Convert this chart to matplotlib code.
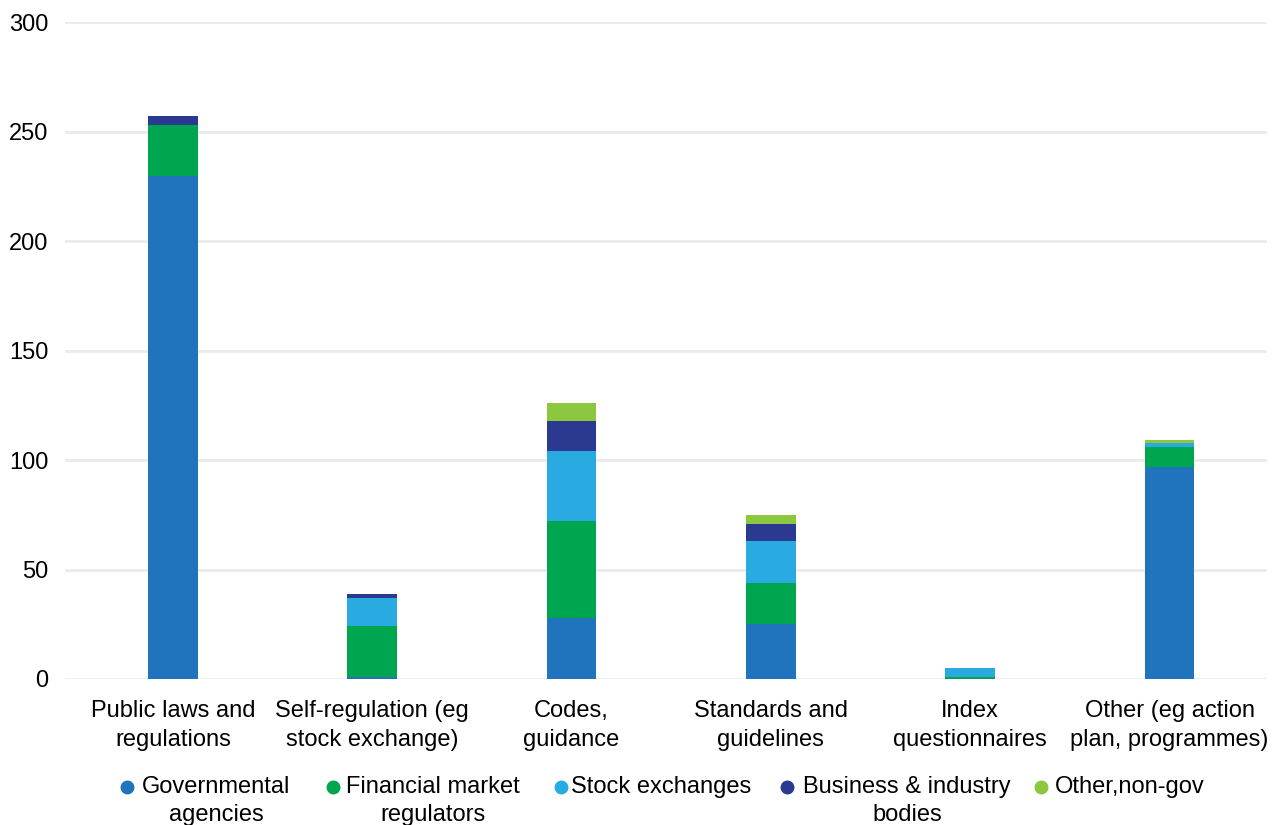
import numpy as np
import matplotlib.pyplot as plt
from matplotlib.lines import Line2D

plt.rcParams['font.family'] = ['Liberation Sans', 'DejaVu Sans']

# Categories and stacked counts per issuer type
categories = ["Public laws and\nregulations", "Self-regulation (eg\nstock exchange)",
              "Codes,\nguidance", "Standards and\nguidelines",
              "Index\nquestionnaires", "Other (eg action\nplan, programmes)"]
governmental = [230, 1, 28, 25, 0, 97]
fin_regulators = [23, 23, 44, 19, 1, 9]
stock_exchanges = [0, 13, 32, 19, 4, 2]
business = [4, 2, 14, 8, 0, 0]
other_nongov = [0, 0, 8, 4, 0, 1]

series = [
    ("Governmental\nagencies", governmental, "#1F74BD"),
    ("Financial market\nregulators", fin_regulators, "#00A54F"),
    ("Stock exchanges", stock_exchanges, "#29ABE2"),
    ("Business & industry\nbodies", business, "#2B3990"),
    ("Other,non-gov", other_nongov, "#8DC63F"),
]

fig = plt.figure(figsize=(12.8, 8.25), dpi=100)
ax = fig.add_axes([0.051, 0.177, 0.939, 0.796])

x = np.arange(len(categories))
bottom = np.zeros(len(categories))
for label, vals, col in series:
    ax.bar(x, vals, width=0.25, bottom=bottom, color=col, label=label, zorder=3)
    bottom += np.array(vals)

ax.set_ylim(0, 300)
ax.set_xlim(-0.54, 5.49)
ax.set_yticks(range(0, 301, 50))
ax.yaxis.grid(True, color="#ebebeb", linewidth=2, zorder=0)
for s in ax.spines.values():
    s.set_visible(False)
ax.tick_params(axis="both", length=0, labelsize=17, colors="black")
ax.tick_params(axis="y", pad=12)
ax.tick_params(axis="x", pad=15)
ax.set_xticks(x)
ax.set_xticklabels(categories, linespacing=1.45)

# legend drawn by hand: dot beside the first line, wrapped text centred
marker_x = [127, 333, 561, 787, 1041]
text_x = [142, 346, 571, 803, 1055]
W, H = 1280, 825
for (label, _, col), mx, tx in zip(series, marker_x, text_x):
    fig.add_artist(Line2D([mx / W], [1 - 787 / H], marker="o", markersize=9,
                          markerfacecolor=col, markeredgecolor=col,
                          linestyle="none", transform=fig.transFigure))
    fig.text(tx / W, 1 - 776 / H, label, fontsize=17, ha="left", va="top",
             multialignment="center", linespacing=1.35)

fig.savefig("out.png", dpi=100)
